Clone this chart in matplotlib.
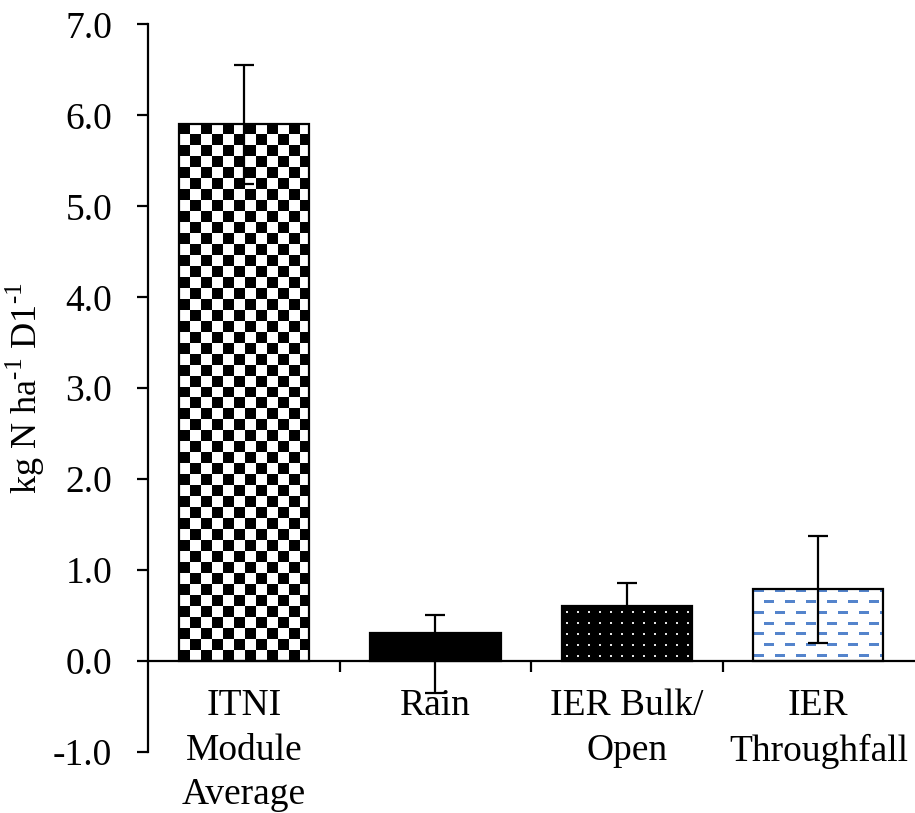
import numpy as np
import matplotlib.pyplot as plt
from matplotlib.ticker import MultipleLocator, FixedLocator

categories = ["ITNI\nModule\nAverage", "Rain", "IER Bulk/\nOpen", "IER\nThroughfall"]
values = [5.90, 0.31, 0.61, 0.79]
err_low = [0.65, 0.66, 0.25, 0.59]
err_high = [0.65, 0.20, 0.25, 0.59]

plt.rcParams['font.family'] = ['Liberation Serif', 'DejaVu Serif']
plt.rcParams['mathtext.fontset'] = 'custom'
plt.rcParams['mathtext.rm'] = 'Liberation Serif'

fig = plt.figure(figsize=(9.15, 8.13), dpi=100)
ax = fig.add_axes([0.162, 0.075, 0.837, 0.895])

x = np.arange(len(categories))
bars = ax.bar(x, values, width=0.68, color='white', edgecolor='black',
              linewidth=1.6, zorder=2)

ax.set_xlim(-0.5, 3.5)
ax.set_ylim(-1, 7)


# pixel tiles for the fills
def checker_tile(n=11):
    t = np.ones((2 * n, 2 * n, 3))
    t[:n, :n] = 0
    t[n:, n:] = 0
    return t


def dots_tile(n=11):
    t = np.zeros((n, n, 3))
    t[4:6, 4:6] = 0.9
    return t


def dash_tile(n=11, w=21):
    t = np.ones((2 * n, w, 3))
    blue = np.array([0.33, 0.52, 0.80])
    t[4:7, 1:11] = blue
    t[n + 4:n + 7, 11:21] = blue
    return t


tiles = [checker_tile(), None, dots_tile(), dash_tile()]

fig.canvas.draw()
for b, tile in zip(bars, tiles):
    if tile is None:
        b.set_facecolor('black')
        continue
    x0, y0 = b.get_x(), b.get_y()
    x1, y1 = x0 + b.get_width(), y0 + b.get_height()
    (px0, py0), (px1, py1) = ax.transData.transform([(x0, y0), (x1, y1)])
    w = int(round(px1 - px0)) + 1
    h = int(round(py1 - py0)) + 1
    th, tw = tile.shape[:2]
    img = np.tile(tile, (h // th + 1, w // tw + 1, 1))[:h, :w]
    im = ax.imshow(img, extent=(x0, x1, y1, y0), origin='upper',
                   interpolation='nearest', aspect='auto', zorder=1.5)
    im.set_clip_path(b)
    b.set_facecolor('none')

ax.errorbar(x, values, yerr=[err_low, err_high], fmt='none', ecolor='black',
            elinewidth=1.6, capsize=7, capthick=1.6, zorder=3)

ax.set_xlim(-0.5, 3.5)
ax.set_ylim(-1, 7)

ax.spines['top'].set_visible(False)
ax.spines['right'].set_visible(False)
ax.spines['bottom'].set_position(('data', 0))
for s in ['left', 'bottom']:
    ax.spines[s].set_linewidth(1.6)

ax.yaxis.set_major_locator(MultipleLocator(1))
ax.set_yticklabels([f"{v:.1f}" for v in ax.get_yticks()])
ax.tick_params(axis='y', direction='out', length=8, width=1.6, labelsize=27, pad=18)

ax.set_xticks(x)
ax.set_xticklabels(categories, fontsize=27, linespacing=1.38)
ax.xaxis.set_minor_locator(FixedLocator([0.5, 1.5, 2.5]))
ax.tick_params(axis='x', which='major', length=0, pad=20)
ax.tick_params(axis='x', which='minor', direction='out', length=8, width=1.6)

ax.set_ylabel(r"kg N ha$^{\text{-1}}$ D1$^{\text{-1}}$", fontsize=26, labelpad=4)

fig.savefig("out.png", dpi=100)
